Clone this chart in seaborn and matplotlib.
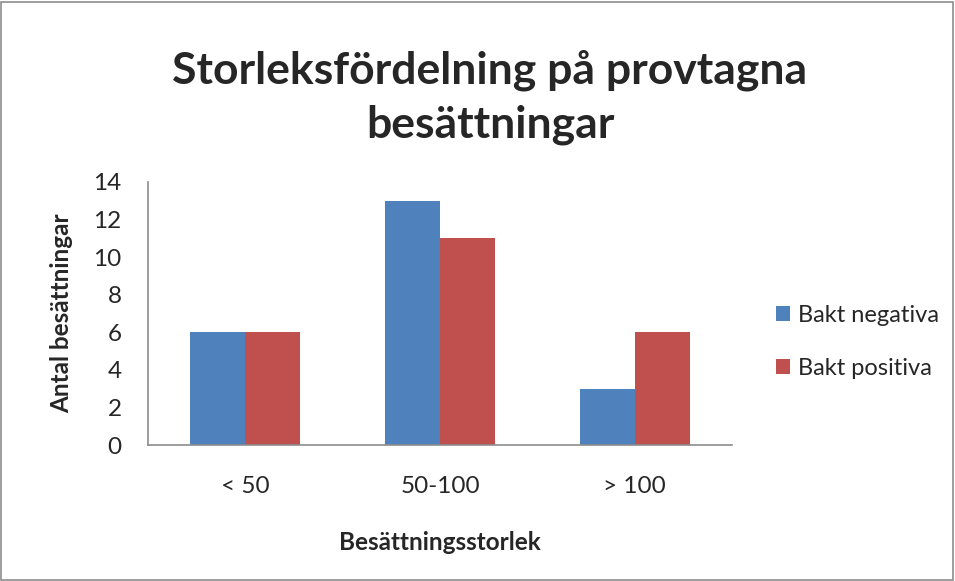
import matplotlib
matplotlib.use("Agg")
import matplotlib.pyplot as plt
import seaborn as sns
import pandas as pd
from matplotlib.patches import Rectangle, Patch

categories = ["< 50", "50-100", "> 100"]
series_names = ["Bakt negativa", "Bakt positiva"]
bakt_negativa = [6, 13, 3]
bakt_positiva = [6, 11, 6]
y_ticks = [0, 2, 4, 6, 8, 10, 12, 14]

df = pd.DataFrame({
    "cat": categories * 2,
    "series": [series_names[0]] * 3 + [series_names[1]] * 3,
    "value": bakt_negativa + bakt_positiva,
})

sns.set_theme(style="white")
plt.rcParams["font.family"] = ["Lato", "DejaVu Sans"]

fig = plt.figure(figsize=(9.55, 5.81), dpi=100)
ax = fig.add_axes([148 / 955, 1 - 445 / 581, (732 - 148) / 955, (445 - 182) / 581])

colors = ["#4F81BD", "#C0504D"]
sns.barplot(data=df, x="cat", y="value", hue="series", palette=colors,
            width=0.565, saturation=1, ax=ax, legend=False, edgecolor="none")

fs = 17.5
ax.set_xlim(-0.5, 2.5)
ax.set_ylim(0, 14)
ax.set_yticks(y_ticks)
ax.set_yticklabels([str(t) for t in y_ticks], fontsize=fs)
ax.tick_params(axis="x", labelsize=fs, length=0, pad=22)
ax.tick_params(axis="y", length=0, pad=19)
for lbl in ax.get_yticklabels():
    lbl.set_horizontalalignment("right")

for s in ["top", "right"]:
    ax.spines[s].set_visible(False)
for s in ["left", "bottom"]:
    ax.spines[s].set_color("#8C8C8C")
    ax.spines[s].set_linewidth(1.2)

ax.set_xlabel("")
ax.set_ylabel("")
fig.text(62 / 955, 1 - 313 / 581, "Antal besättningar", rotation=90, ha="center",
         va="center", fontsize=fs, fontweight="bold")
fig.text(440 / 955, 1 - 542 / 581, "Besättningsstorlek", ha="center",
         va="center", fontsize=fs, fontweight="bold")

fig.text(490 / 955, 1 - 70 / 581, "Storleksfördelning på provtagna", ha="center",
         va="center", fontsize=32, fontweight="bold")
fig.text(490 / 955, 1 - 125 / 581, "besättningar", ha="center",
         va="center", fontsize=32, fontweight="bold")

handles = [Patch(facecolor=c, edgecolor="none") for c in colors]
fig.legend(handles, series_names, loc="center left",
           bbox_to_anchor=(776 / 955, 1 - 342 / 581), frameon=False,
           fontsize=17, handlelength=0.6, handleheight=0.6,
           handletextpad=0.35, labelspacing=1.35, borderpad=0,
           borderaxespad=0)

fig.patches.append(Rectangle((1 / 955, 1 / 581), 952 / 955, 578 / 581,
                             transform=fig.transFigure, fill=False,
                             edgecolor="#8C8C8C", linewidth=1.2))

fig.savefig("out.png", dpi=100)
